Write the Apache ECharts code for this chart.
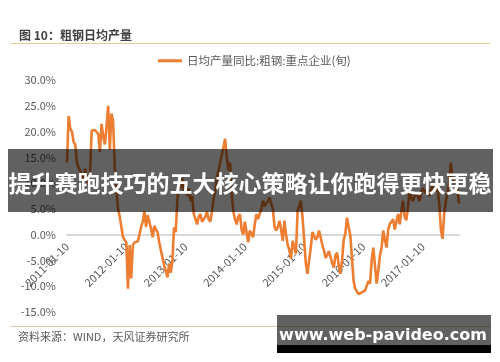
<!DOCTYPE html>
<html><head><meta charset="utf-8">
<script src="https://cdn.jsdelivr.net/npm/echarts@6/dist/echarts.min.js"></script>
<style>html,body{margin:0;padding:0;background:#fff;}#c{width:500px;height:362px;}</style>
</head><body><div id="c"></div>
<script>
// Chart values
var chartTitle = '图 10：粗钢日均产量';
var seriesName = '日均产量同比:粗钢:重点企业(旬)';
var sourceText = '资料来源：WIND，天风证券研究所';
var bannerText = '提升赛跑技巧的五大核心策略让你跑得更快更稳';
var watermarkText = 'www.web-pavideo.com';
var startYear = 2011;
var dekadDays = ['10', '20', '31'];
var yTicks = [-15, -10, -5, 0, 5, 10, 15, 20, 25, 30];
var values = [
 14, 23, 20.5, 20, 18, 17.5, 14, 13, 12.5, 11.5,
 10.5, 12.8, 11, 9.5, 12, 20.2, 20.5, 20.3, 20.6, 19.5,
 16, 21.5, 19, 17.5, 21, 25, 16.5, 23.5, 22, 13,
 8.5, 5, 3.5, 1.5, -0.5, -0.8, -1.5, -10.5, -2, -8.5,
 -2, -1.5, -1.2, -1.3, 0, 1.5, 2.5, 4.5, 1.5, 3.8,
 2.5, 1.2, -0.5, 1.7, 1, 0.5, -1.5, -3, -4.5, -6,
 -7, -8.3, -5.6, -7.4, -5, 1.4, 0.5, 6.6, 10.5, 9,
 11, 8.5, 10, 7.5, 9, 6.5, 7.5, 4, 3, 2,
 3.5, 4, 2.5, 2.2, 3.5, 4.5, 3, 2.5, 4.5, 7,
 8.5, 11, 12.5, 14, 15.5, 17, 18.6, 15, 12.5, 14,
 8, 4.5, 3, 2, 3.5, 4, 1, 0, 2.5, 0.5,
 -1.5, 0.8, 0.5, -0.5, 2, 4, 3, 2.8, 5, 6.6,
 5.5, 5.2, 6.5, 7.2, 6, 5, 1.5, 0.8, 1.5, 2.7,
 1, -1.2, 2.7, 0, -2, -3, -4.6, -1.2, -2.5, -3.7,
 4.7, 5.5, 6.6, 3.3, -1, -5.6, -7.6, -5, -2.5, 0.5,
 0.8, -1, -0.5, 0.8, -0.5, -2, -3, -4.5, -4, -3.2,
 -3.5, -5.5, -6.4, -4, -3.5, -6, -7.6, -5, -1, 0.2,
 3.3, 1.5, 0, -4.5, -9, -10.5, -11, -11.5, -11.8, -11.2,
 -11, -10.8, -11, -9, -9.5, -5, -2.5, -6, -9.5, -7,
 -4, -2.5, 0.8, -1, -2.5, 1, 2.1, 2.5, 3, 1,
 2.5, 4, 2, 4.5, 6.6, 3.5, 2.8, 5.2, 9, 7,
 6.5, 7.5, 8, 7.5, 6.5, 8, 9, 8.5, 8, 9,
 7.5, 8.5, 10, 9.5, 8.5, 9, 6, 1, -0.8, 4,
 6.5, 8, 10, 14, 11, 10.5, 10, 9, 6
];

// category dates (one per 旬)
var categories = [];
(function () {
  var y = startYear, m = 1, k = 0;
  for (var i = 0; i < values.length; i++) {
    var mm = m < 10 ? '0' + m : '' + m;
    categories.push(y + '-' + mm + '-' + dekadDays[k]);
    k++;
    if (k === 3) { k = 0; m++; if (m === 13) { m = 1; y++; } }
  }
})();

var grey = '#595959';
var cjk = '"Noto Sans CJK SC", "Noto Sans", sans-serif';
var gridTop = 80, gridBottom = 50, chartH = 362;
var plotH = chartH - gridTop - gridBottom;
var yMin = yTicks[0], yMax = yTicks[yTicks.length - 1];
// move the category axis (line + labels) up to the zero level
var zeroOffset = -plotH * (0 - yMin) / (yMax - yMin);

var chart = echarts.init(document.getElementById('c'));
chart.setOption({
  animation: false,
  backgroundColor: '#fff',
  title: {
    text: chartTitle, left: 14, top: 24,
    textStyle: { fontSize: 12, fontWeight: 'bold', color: '#404040', fontFamily: cjk }
  },
  legend: {
    data: [{ name: seriesName, icon: 'rect' }],
    left: 153, top: 50, itemWidth: 24, itemHeight: 3, itemGap: 5,
    textStyle: { fontSize: 11.5, color: grey, fontFamily: cjk }
  },
  grid: { left: 67, right: 41, top: gridTop, bottom: gridBottom },
  xAxis: {
    type: 'category', data: categories, boundaryGap: false,
    position: 'bottom', offset: zeroOffset,
    axisLine: { onZero: false, lineStyle: { color: '#d9d9d9', width: 2 } },
    axisTick: { show: false },
    axisLabel: { interval: 35, rotate: 45, color: grey, fontSize: 11, margin: 10, fontFamily: cjk }
  },
  yAxis: {
    type: 'value', min: yMin, max: yMax, interval: 5,
    axisLine: { show: false }, axisTick: { show: false }, splitLine: { show: false },
    axisLabel: { color: grey, fontSize: 11, margin: 11, fontFamily: cjk,
      formatter: function (v) { return v.toFixed(1) + '%'; } }
  },
  series: [{
    name: seriesName, type: 'line', data: values, symbol: 'none', z: 5,
    lineStyle: { color: '#ED7D31', width: 2.6 }, itemStyle: { color: '#ED7D31' }
  }],
  graphic: [
    { type: 'line', shape: { x1: 10, y1: 43.5, x2: 490, y2: 43.5 }, style: { stroke: '#f1c699', lineWidth: 1 }, z: 1 },
    { type: 'line', shape: { x1: 10, y1: 326.5, x2: 490, y2: 326.5 }, style: { stroke: '#dcc9a6', lineWidth: 1 }, z: 1 },
    { type: 'text', left: 18, top: 331, style: { text: sourceText, fill: grey, font: '11px ' + cjk }, z: 2 },
    { type: 'rect', shape: { x: 8, y: 149, width: 485, height: 63 }, style: { fill: 'rgba(0,0,0,0.62)' }, z: 100 },
    { type: 'text', x: 250, y: 183, style: { text: bannerText, fill: '#fff', font: 'bold 23px ' + cjk, textAlign: 'center', textVerticalAlign: 'middle' }, z: 101 },
    { type: 'rect', shape: { x: 277, y: 315, width: 214, height: 30 }, style: { fill: 'rgba(0,0,0,0.62)' }, z: 100 },
    { type: 'rect', shape: { x: 277, y: 345, width: 214, height: 8 }, style: { fill: '#000' }, z: 100 },
    { type: 'text', x: 383, y: 336, style: { text: watermarkText, fill: '#fff', font: 'bold 16px "DejaVu Sans", sans-serif', textAlign: 'center', textVerticalAlign: 'middle' }, z: 101 }
  ]
});
</script>
</body></html>
